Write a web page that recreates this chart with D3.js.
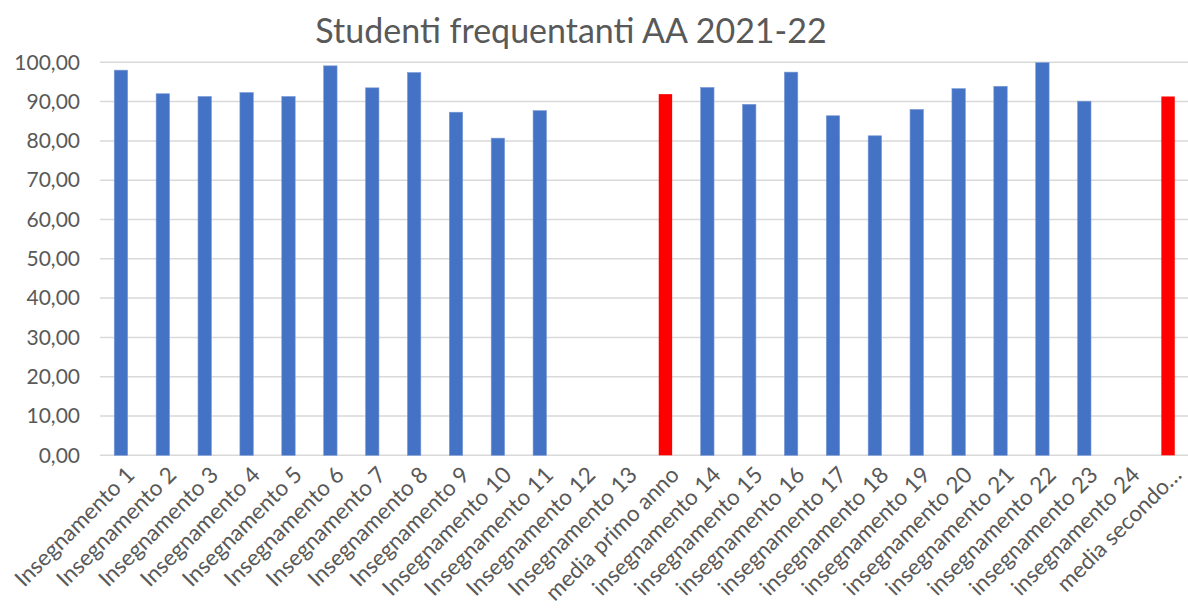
<!DOCTYPE html>
<html><head><meta charset="utf-8">
<script src="https://cdn.jsdelivr.net/npm/d3@7"></script>
<style>body{margin:0;background:#fff}svg{display:block}</style>
</head><body>
<svg id="c" width="1188" height="612"></svg>
<script>
const categories = ["Insegnamento 1","Insegnamento 2","Insegnamento 3","Insegnamento 4","Insegnamento 5","Insegnamento 6","Insegnamento 7","Insegnamento 8","Insegnamento 9","Insegnamento 10","Insegnamento 11","Insegnamento 12","Insegnamento 13","media primo anno","insegnamento 14","insegnamento 15","insegnamento 16","insegnamento 17","insegnamento 18","insegnamento 19","insegnamento 20","insegnamento 21","insegnamento 22","insegnamento 23","insegnamento 24","media secondo…"];
const values = [98.0,92.0,91.3,92.3,91.3,99.1,93.5,97.4,87.3,80.7,87.7,null,null,91.9,93.6,89.3,97.5,86.4,81.3,88.0,93.3,93.9,99.9,90.1,null,91.3];
const highlight = ["media primo anno","media secondo…"];
const yTicks = [0,10,20,30,40,50,60,70,80,90,100];
const title = "Studenti frequentanti AA 2021-22";

const svg = d3.select("#c");
const m = {left:100, right:1189, top:62.3, bottom:455.3};
const x = d3.scaleBand().domain(categories).range([m.left, m.right]).paddingInner(0.68).paddingOuter(0.34);
const y = d3.scaleLinear().domain([0,100]).range([m.bottom, m.top]);
const font = "Lato, 'Noto Sans', sans-serif";
const fmt = v => d3.format(".2f")(v).replace(".", ",");

// gridlines
svg.append("g").selectAll("line").data(yTicks).join("line")
  .attr("x1", m.left).attr("x2", 1188)
  .attr("y1", d=>y(d)).attr("y2", d=>y(d))
  .attr("stroke", "#d9d9d9").attr("stroke-width", 1.5);

// y labels
const yAxis = d3.axisLeft(y).tickValues(yTicks).tickFormat(fmt).tickSize(0).tickPadding(0);
const ya = svg.append("g").attr("transform", `translate(${m.left-20},0)`).call(yAxis);
ya.select(".domain").remove();
ya.selectAll("text").attr("font-family", font).attr("font-size", 21).attr("fill", "#595959");

// bars
svg.append("g").selectAll("rect").data(categories.map((c,i)=>({c, v: values[i]})).filter(d=>d.v!=null)).join("rect")
  .attr("x", d=>x(d.c)).attr("width", x.bandwidth())
  .attr("y", d=>y(d.v)).attr("height", d=>y(0)-y(d.v))
  .attr("fill", d=>highlight.includes(d.c) ? "#ff0000" : "#4472c4")
  .attr("stroke", d=>highlight.includes(d.c) ? "none" : "#7a9ad6").attr("stroke-width", 0.6);

// x labels
const xAxis = d3.axisBottom(x).tickSize(0).tickPadding(0);
const xa = svg.append("g").attr("transform", `translate(0,${m.bottom})`).call(xAxis);
xa.select(".domain").remove();
xa.selectAll("text")
  .attr("font-family", font).attr("font-size", 22.5).attr("fill", "#595959")
  .attr("text-anchor", "end").attr("dy", null).attr("y", 0)
  .attr("transform", `translate(15,21) rotate(-45)`);

// title
svg.append("text").attr("x", 571).attr("y", 43).attr("text-anchor", "middle")
  .attr("font-family", font).attr("font-size", 34).attr("fill", "#595959").text(title);
</script>
</body></html>
